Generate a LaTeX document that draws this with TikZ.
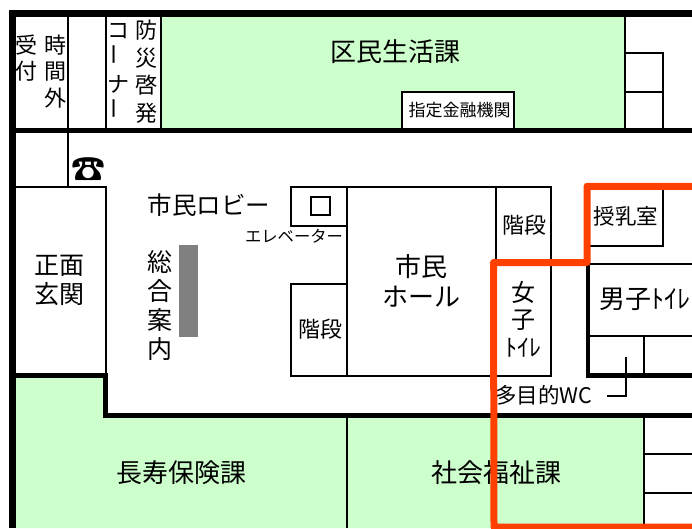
\documentclass[tikz,border=0pt]{standalone}
\usepackage{fontspec}
\setmainfont{Noto Sans CJK JP}
\definecolor{room}{HTML}{CCFFCC}
\definecolor{route}{HTML}{FF4000}
\newcommand{\vbar}{\rotatebox{90}{ー}}
\newcommand{\fs}[2]{\fontsize{#1}{#2}\selectfont}
\tikzset{
  wall/.style={draw=black,line width=#1},
  thin wall/.style={draw=black,line width=2pt},
  lbl/.style={inner sep=0pt,align=center,text=black},
  room fill/.style={fill=room,draw=none},
  route line/.style={draw=route,line width=7pt,line join=round,line cap=round}
}
\begin{document}
\begin{tikzpicture}[x=1pt,y=-1pt]
\useasboundingbox (0,0) rectangle (692,528);
\clip (0,0) rectangle (692,528);
% rooms
\fill[room fill] (161,17) rectangle (625,128);
\fill[room fill] (16,377) -- (105,377) -- (105,415) -- (644,415) -- (644,528) -- (16,528) -- cycle;
\fill[white] (402,91.5) rectangle (513.5,128);
\fill[fill=black!50] (179,245) rectangle (198,337);
% thin partitions
\draw[thin wall] (68,17) -- (68,128);
\draw[thin wall] (105.5,17) -- (105.5,128);
\draw[thin wall] (160.5,17) -- (160.5,128);
\draw[thin wall] (625,17) -- (625,128);
\draw[thin wall] (625,52.5) -- (662.5,52.5) -- (662.5,128);
\draw[thin wall] (625,91.5) -- (662.5,91.5);
\draw[thin wall] (402,128) -- (402,91.5) -- (513.5,91.5) -- (513.5,128);
\draw[thin wall] (68,133) -- (68,186.5);
\draw[thin wall] (16,186.5) -- (105.5,186.5) -- (105.5,375);
\draw[thin wall] (291,186.5) rectangle (551,375.5);
\draw[thin wall] (291,226) -- (347,226);
\draw[thin wall] (291,284) -- (347,284);
\fill[white] (289.5,227) rectangle (292.5,283);
\draw[thin wall] (347,186.5) -- (347,375.5);
\draw[thin wall] (495.5,186.5) -- (495.5,375.5);
\draw[thin wall] (310.5,197) rectangle (329.5,214.5);
\draw[thin wall] (662.5,186) -- (662.5,246) -- (590,246);
\draw[thin wall] (588,264) -- (692,264);
\draw[thin wall] (590,336) -- (692,336);
\draw[thin wall] (643.5,336) -- (643.5,375);
\draw[thin wall] (625.5,357) -- (625.5,396) -- (607,396);
\draw[thin wall] (347,415) -- (347,528);
\draw[thin wall] (643.5,415) -- (643.5,528);
\draw[thin wall] (643.5,453.5) -- (692,453.5);
\draw[thin wall] (643.5,493) -- (692,493);
% thick walls
\draw[wall=7pt] (692,13.5) -- (12.5,13.5) -- (12.5,528);
\draw[wall=5pt] (16,130.5) -- (692,130.5);
\draw[wall=5pt] (16,375.8) -- (107.5,375.8);
\draw[wall=4.5pt] (105.4,373.5) -- (105.4,415);
\draw[wall=5pt] (103,415) -- (692,415);
\draw[wall=4.5pt] (588.2,264) -- (588.2,377.5);
\draw[wall=4.5pt] (586,375.3) -- (692,375.3);
% labels
\node[lbl,font=\fs{22}{26.5}] (uketsuke) at (26,58) {受\\付};
\node[lbl,font=\fs{22}{26.5}] (jikangai) at (55,71.5) {時\\間\\外};
\node[lbl,font=\fs{22}{27}] (corner) at (118,71.5) {コ\\\vbar\\ナ\\\vbar};
\node[lbl,font=\fs{22}{27.5}] (bousai) at (146,71.5) {防\\災\\啓\\発};
\node[lbl,font=\fs{26}{30}] (kumin) at (395,52) {区民生活課};
\node[lbl,font=\fs{17}{20}] (shitei) at (459.5,110.5) {指定金融機関};
\node[lbl,font=\fs{34}{38}] (phone) at (88,170) {☎};
\node[lbl,font=\fs{24.5}{28}] (lobby) at (209,205.5) {市民ロビー};
\node[lbl,font=\fs{16.3}{18}] (ev) at (294,236) {エレベーター};
\node[lbl,font=\fs{25}{29.5}] (genkan) at (59,280.5) {正面\\玄関};
\node[lbl,font=\fs{25}{29.3}] (annai) at (160,305.5) {総\\合\\案\\内};
\node[lbl,font=\fs{22}{26}] (kaidan1) at (320,329) {階段};
\node[lbl,font=\fs{22}{26}] (kaidan2) at (524,225) {階段};
\node[lbl,font=\fs{26}{30}] (hall) at (421,281) {市民\\ホール};
\node[lbl,font=\fs{24}{27.5}] (women) at (523,319) {女\\子\\ﾄｲﾚ};
\node[lbl,anchor=west,font=\fs{26}{29}] (men) at (599,299.5) {男子ﾄｲﾚ};
\node[lbl,anchor=west,font=\fs{21.5}{25}] (wc) at (495,395) {多目的WC};
\node[lbl,font=\fs{21.5}{25}] (junyu) at (626,216) {授乳室};
\node[lbl,font=\fs{26}{30}] (choju) at (181,473) {長寿保険課};
\node[lbl,font=\fs{26}{30}] (shakai) at (496,473) {社会福祉課};
% route
\draw[route line] (696,300) -- (695.5,527) -- (494,527) -- (493.5,262.5) -- (587,262.5) -- (587,186.3) -- (700,186.3);
\end{tikzpicture}
\end{document}
